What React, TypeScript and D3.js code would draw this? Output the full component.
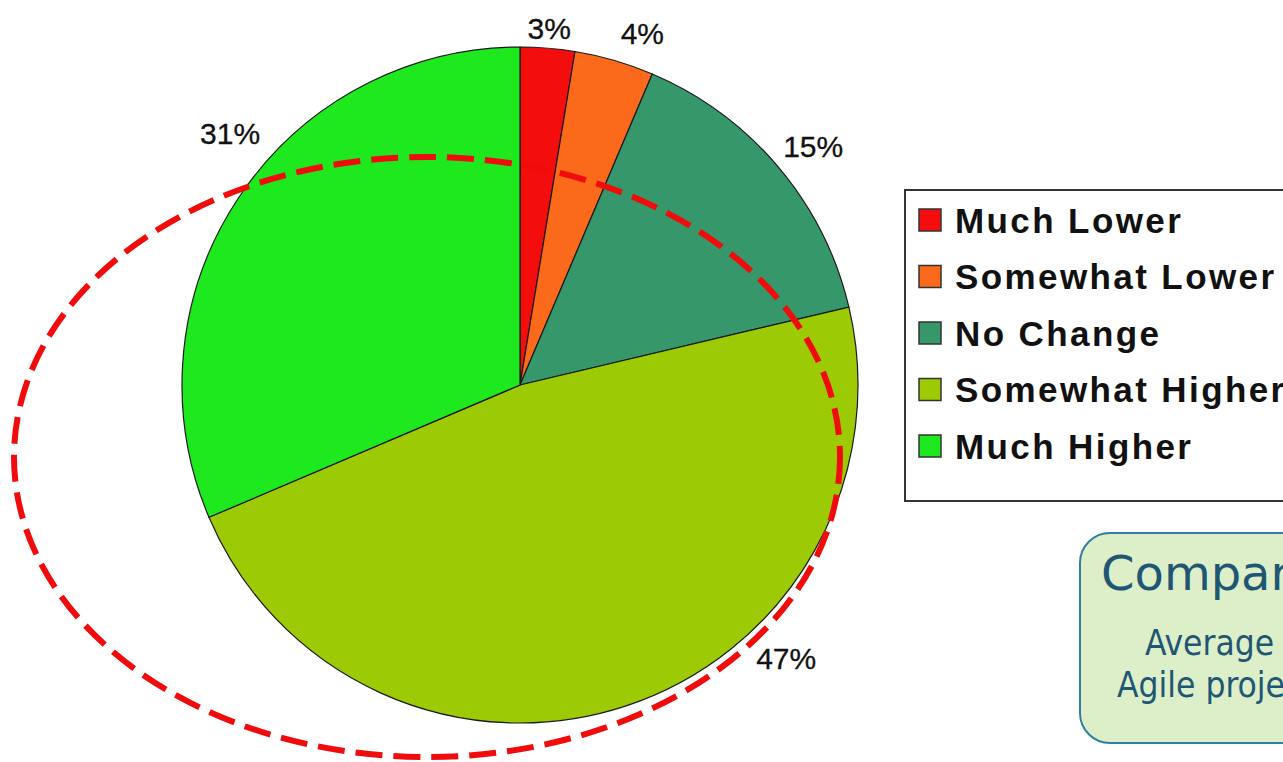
import React from "react";
import * as d3 from "d3";

const categories = ["Much Lower", "Somewhat Lower", "No Change", "Somewhat Higher", "Much Higher"];
const values = [2.6, 3.8, 14.9, 47.3, 31.4];
const colors = ["#f40d0d", "#fb6a1a", "#36976a", "#9ccb05", "#1ee81e"];
// label placement only (degrees of angular shift, radius from centre)
const labelAngleShift = [0, 3, 1, -26, 7.5];
const labelRadius = [358, 372, 378, 382, 384];
const boxTitle = "Comparison";
const boxLines = ["Average cost of", "Agile projects"];

export default function App() {
  const W = 1283, H = 762;
  const cx = 520, cy = 385, r = 338;
  const pie = d3.pie<number>().sort(null).startAngle(0).endAngle(2 * Math.PI);
  const arcs = pie(values);
  const arc = d3.arc<d3.PieArcDatum<number>>().innerRadius(0).outerRadius(r);
  const legendRowY = d3.scalePoint<string>().domain(categories).range([220, 446]);
  const font = "Liberation Sans, Arial, sans-serif";

  return (
    <svg width={W} height={H} style={{ position: "absolute", left: 0, top: 0, background: "#fff" }}>
      <rect x={0} y={0} width={W} height={H} fill="#fff" />
      <g transform={`translate(${cx},${cy})`}>
        {arcs.map((a, i) => (
          <path key={i} d={arc(a) || ""} fill={colors[i]} stroke="#1a1a1a" strokeWidth={1.2} />
        ))}
        {arcs.map((a, i) => {
          const mid = (a.startAngle + a.endAngle) / 2 + (labelAngleShift[i] * Math.PI) / 180;
          const x = Math.sin(mid) * labelRadius[i];
          const y = -Math.cos(mid) * labelRadius[i];
          return (
            <text key={i} x={x} y={y} textAnchor="middle" dominantBaseline="central"
              fontFamily={font} fontSize={30} fill="#111" stroke="#111" strokeWidth={0.3}>
              {`${Math.round(values[i])}%`}
            </text>
          );
        })}
      </g>
      {/* legend */}
      <rect x={905} y={190} width={400} height={311} fill="#fff" stroke="#333" strokeWidth={2} />
      {categories.map((c, i) => {
        const y = legendRowY(c) as number;
        return (
          <g key={c}>
            <rect x={919} y={y - 11} width={22} height={22} fill={colors[i]} stroke="#333" strokeWidth={1.5} />
            <text x={955} y={y} dominantBaseline="central" fontFamily={font}
              fontWeight="bold" fontSize={35} letterSpacing={2.4} fill="#111">
              {c}
            </text>
          </g>
        );
      })}
      {/* dashed ellipse */}
      <ellipse cx={427} cy={457} rx={413} ry={300} fill="none" stroke="#f00c0c" strokeWidth={6}
        strokeDasharray="27 11" />
      {/* callout box */}
      <rect x={1080} y={533} width={260} height={210} rx={30} ry={30} fill="#dcefc8" stroke="#2f7f9e" strokeWidth={2} />
      <text x={1101} y={590} fontFamily="DejaVu Sans, sans-serif"
        fontSize={48} fill="#1f5674">
        {boxTitle}
      </text>
      <text x={1145} y={655} fontFamily="DejaVu Sans Condensed, DejaVu Sans, sans-serif" fontStretch="condensed"
        fontSize={35} fill="#1f5674">
        {boxLines[0]}
      </text>
      <text x={1117} y={697} fontFamily="DejaVu Sans Condensed, DejaVu Sans, sans-serif" fontStretch="condensed"
        fontSize={35} fill="#1f5674">
        {boxLines[1]}
      </text>
    </svg>
  );
}
